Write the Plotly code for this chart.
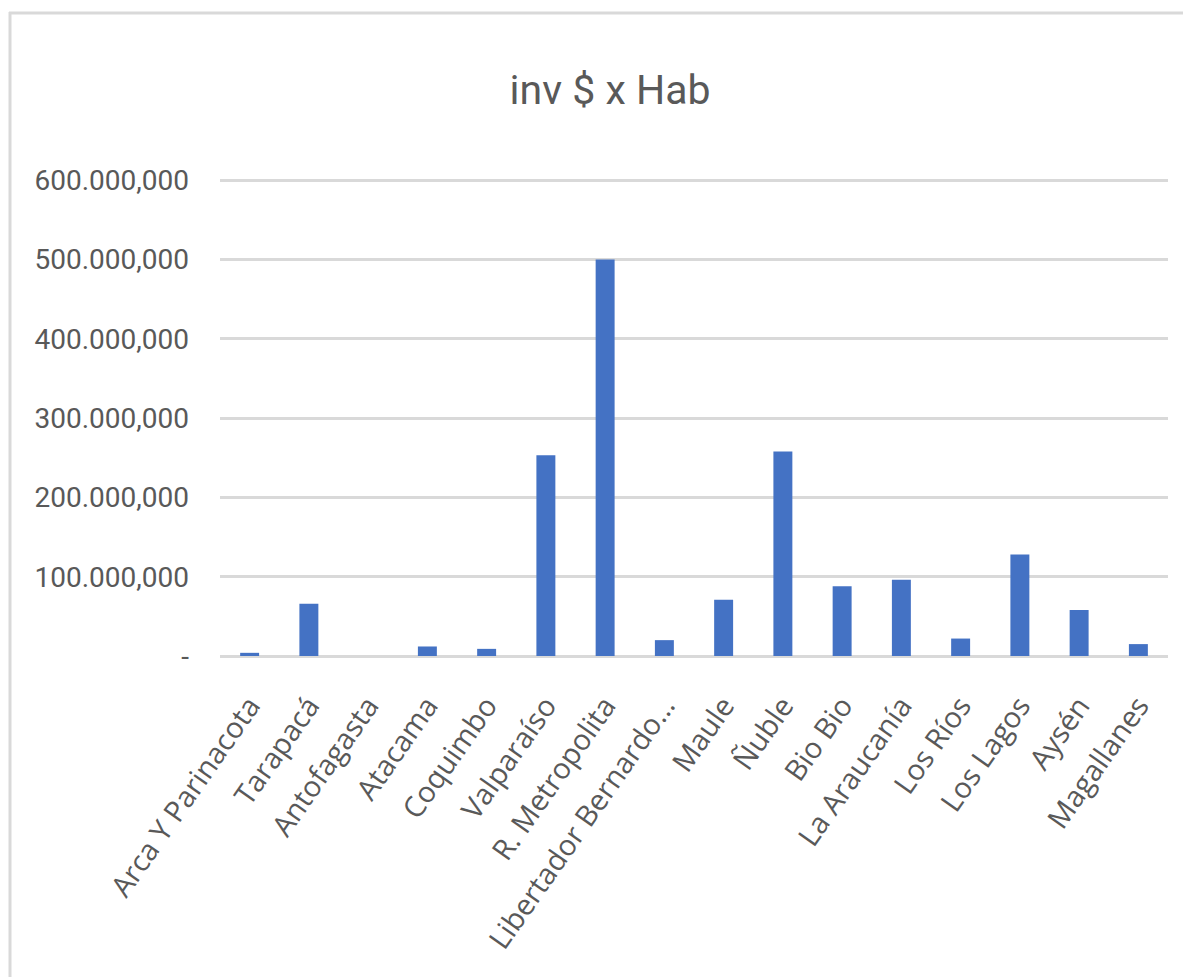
import plotly.graph_objects as go

regions = ["Arca Y Parinacota", "Tarapacá", "Antofagasta", "Atacama", "Coquimbo",
           "Valparaíso", "R. Metropolita", "Libertador Bernardo…", "Maule", "Ñuble",
           "Bio Bio", "La Araucanía", "Los Ríos", "Los Lagos", "Aysén", "Magallanes"]
values = [4000, 66000, 0, 12000, 9000, 253000, 500000, 20000, 71000, 258000,
          88000, 96000, 22000, 128000, 58000, 15000]
tick_vals = [0, 100000, 200000, 300000, 400000, 500000, 600000]
tick_text = ["-", "100.000,000", "200.000,000", "300.000,000", "400.000,000",
             "500.000,000", "600.000,000"]

OFF = 8  # page body margin
W, H = 1191 - OFF, 977 - OFF
ML, MT = 220 - OFF, 179 - OFF
pw, ph = 948, 477
MR = W - ML - pw
MB = H - MT - ph

def px_x(x):
    return (x - OFF - ML) / pw

def px_y(y):
    return (MT + ph - (y - OFF)) / ph

fig = go.Figure(go.Bar(x=regions, y=values, marker_color="#4472C4",
                       marker_line_width=0))

gray = "#595959"

fig.update_layout(
    width=W, height=H,
    margin=dict(l=ML, r=MR, t=MT, b=MB),
    paper_bgcolor="white", plot_bgcolor="white",
    bargap=0.68,
    showlegend=False,
    title=dict(text="inv $ x Hab", x=(610 - OFF) / W, xanchor="center",
               y=1 - (90 - OFF) / H, yanchor="middle",
               font=dict(family="Roboto, sans-serif", size=41, color=gray)),
    xaxis=dict(tickangle=-55, tickfont=dict(family="Open Sans, sans-serif", size=29, color=gray),
               showgrid=False, showline=False, ticks="", ticklabelstandoff=26),
    yaxis=dict(range=[0, 601500], tickvals=tick_vals, ticktext=tick_text,
               tickfont=dict(family="Roboto, sans-serif", size=28, color=gray),
               showgrid=True, gridcolor="#D9D9D9", gridwidth=3,
               zeroline=True, zerolinecolor="#D9D9D9", zerolinewidth=3,
               showline=False, ticks="", ticklabelstandoff=30),
    shapes=[
        dict(type="line", xref="paper", yref="paper", x0=px_x(9), x1=px_x(1191),
             y0=px_y(13), y1=px_y(13), line=dict(color="#D9D9D9", width=3)),
        dict(type="line", xref="paper", yref="paper", x0=px_x(10), x1=px_x(10),
             y0=px_y(12), y1=px_y(977), line=dict(color="#D9D9D9", width=3)),
    ],
)

fig.write_html("out.html")
